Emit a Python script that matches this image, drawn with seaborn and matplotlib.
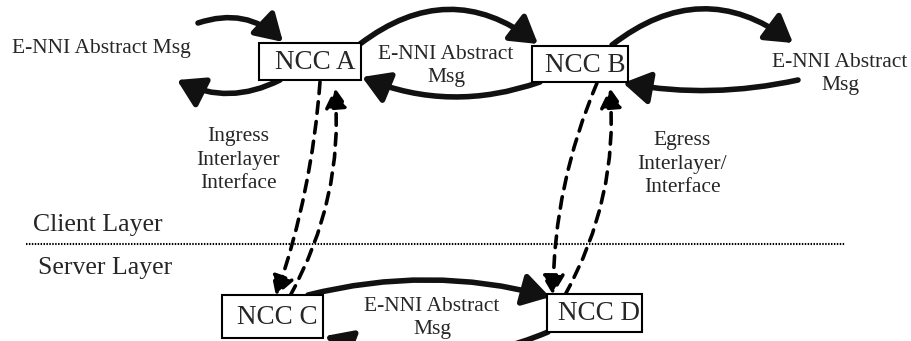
import numpy as np
import matplotlib
matplotlib.use("Agg")
import matplotlib.pyplot as plt
import seaborn as sns
from matplotlib.patches import FancyArrowPatch, Rectangle

sns.set_theme(style="white")
plt.rcParams['font.family'] = ['Liberation Serif', 'DejaVu Serif']

# ---------------------------------------------------------------------------
# Diagram content (pixel coordinates, y grows downward)
# ---------------------------------------------------------------------------
node_names = ['NCC A', 'NCC B', 'NCC C', 'NCC D']
node_x0 = [259, 532, 222, 547]
node_x1 = [361, 628, 323, 642]
node_y0 = [43, 46, 295, 294]
node_y1 = [80, 82, 338, 332]

# solid message arrows: start, end, curvature
msg_start = [(198, 23), (280, 80), (360, 44), (540, 82), (612, 45), (798, 80), (308, 295), (548, 332)]
msg_end = [(283, 42), (177, 80), (538, 44), (362, 77), (793, 43), (623, 83), (550, 297), (325, 336)]
msg_rad = [-0.3, -0.25, -0.38, -0.19, -0.38, -0.1, -0.13, -0.2]

# dashed interlayer arrows
ifc_start = [(320, 82), (290, 296), (597, 83), (565, 295)]
ifc_end = [(276, 296), (335, 88), (553, 295), (610, 88)]
ifc_rad = [-0.065, 0.15, 0.1, 0.15]

labels = ['E-NNI Abstract Msg', 'E-NNI Abstract\nMsg', 'E-NNI Abstract\nMsg',
          'Ingress\nInterlayer\nInterface', 'Egress\nInterlayer/\nInterface',
          'E-NNI Abstract\nMsg']
label_x = [101, 446, 840, 238, 682, 432]
label_y = [48, 66, 74, 160, 164, 318]

layer_names = ['Client Layer', 'Server Layer']
layer_x = [33, 38]
layer_y = [225, 268]
divider_y = 244
divider_x = (26, 845)

# ---------------------------------------------------------------------------
fig = plt.figure(figsize=(9.12, 3.41), dpi=100)
ax = fig.add_axes([0, 0, 1, 1])
ax.set_xlim(0, 912)
ax.set_ylim(341, 0)
ax.axis('off')

for name, x0, x1, y0, y1 in zip(node_names, node_x0, node_x1, node_y0, node_y1):
    ax.add_patch(Rectangle((x0, y0), x1 - x0, y1 - y0, facecolor='white',
                           edgecolor='black', linewidth=1.5, zorder=3))
    ax.text((x0 + x1) / 2 + 5, (y0 + y1) / 2 + 1, name, ha='center', va='center',
            fontsize=19.5, zorder=4)

for s, e, r in zip(msg_start, msg_end, msg_rad):
    ax.add_patch(FancyArrowPatch(s, e, connectionstyle=f'arc3,rad={r}',
                                 arrowstyle='-|>,head_length=1.15,head_width=0.7',
                                 mutation_scale=14, linewidth=4, color='#111111',
                                 shrinkA=0, shrinkB=0, zorder=2))

for s, e, r in zip(ifc_start, ifc_end, ifc_rad):
    ax.add_patch(FancyArrowPatch(s, e, connectionstyle=f'arc3,rad={r}',
                                 arrowstyle='-|>,head_length=0.85,head_width=0.5',
                                 mutation_scale=14, linewidth=2.6, color='black',
                                 linestyle=(0, (3.2, 2.3)),
                                 shrinkA=0, shrinkB=0, zorder=2))

for txt, x, y in zip(labels, label_x, label_y):
    ax.text(x, y, txt, ha='center', va='center', fontsize=15.5, linespacing=1.35)

for txt, x, y in zip(layer_names, layer_x, layer_y):
    ax.text(x, y, txt, ha='left', va='center', fontsize=18.5)

ax.plot(divider_x, (divider_y, divider_y), color='black', linewidth=1.5,
        linestyle=(0, (0.7, 0.7)))

fig.savefig('out.png', dpi=100, facecolor='white')
